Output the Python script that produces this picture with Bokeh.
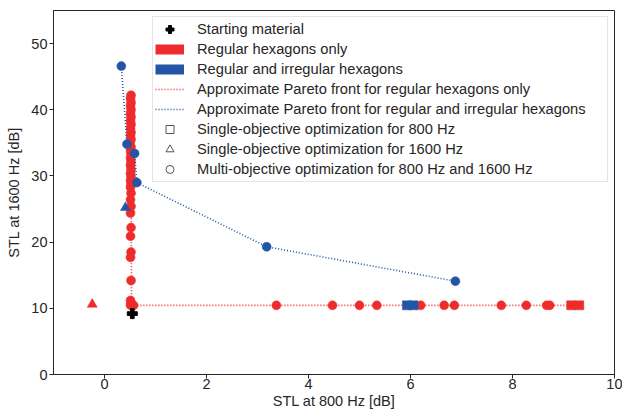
import math
from bokeh.plotting import figure
from bokeh.models import Legend, LegendItem, Range1d
from bokeh.embed import file_html
from bokeh.resources import INLINE

# ---------------- data ----------------
start_x = [0.545]
start_y = [9.2]

# Regular hexagons only, multi-objective optimisation (circles)
reg_multi_x = [0.52, 0.51, 0.52, 0.51, 0.52, 0.51, 0.52, 0.51, 0.52, 0.51,
               0.52, 0.51, 0.52, 0.50, 0.52, 0.51, 0.52, 0.51, 0.52, 0.51,
               0.52, 0.51, 0.52, 0.51, 0.52, 0.51, 0.52, 0.51, 0.52, 0.51,
               0.52, 0.51, 0.52, 0.51, 0.52, 0.51, 0.52, 0.51, 0.57,
               3.37, 4.47, 5.00, 5.34, 6.20, 6.66, 6.86, 7.78, 8.27, 8.67, 8.73]
reg_multi_y = [42.2, 41.7, 41.1, 40.6, 40.0, 39.4, 38.9, 38.3, 37.8, 37.2,
               36.6, 36.1, 35.5, 35.0, 34.4, 33.8, 33.3, 32.7, 32.1, 31.6,
               31.0, 30.4, 29.9, 29.3, 28.8, 28.3, 27.4, 26.4, 25.4, 24.4,
               22.2, 20.9, 18.5, 17.7, 14.2, 11.2, 10.6, 10.5, 10.45,
               10.45, 10.45, 10.45, 10.45, 10.45, 10.45, 10.45, 10.45, 10.45, 10.45, 10.45]

# Regular hexagons only, single-objective 800 Hz (squares) / 1600 Hz (triangle)
reg_s800_x = [9.15, 9.31]
reg_s800_y = [10.45, 10.45]
reg_s1600_x = [-0.24]
reg_s1600_y = [10.6]

# Regular and irregular hexagons
irr_multi_x = [0.33, 0.44, 0.59, 0.635, 3.18, 6.88]
irr_multi_y = [46.6, 34.8, 33.4, 29.0, 19.3, 14.1]
irr_s800_x = [5.93, 6.06]
irr_s800_y = [10.45, 10.45]
irr_s1600_x = [0.41]
irr_s1600_y = [25.2]

# Approximate Pareto fronts
reg_front_x = [0.52, 0.53, 9.31]
reg_front_y = [42.2, 10.45, 10.45]
irr_front_x = [0.33, 0.44, 0.59, 0.635, 3.18, 6.88]
irr_front_y = [46.6, 34.8, 33.4, 29.0, 19.3, 14.1]

x_ticks = [0, 2, 4, 6, 8, 10]
y_ticks = [0, 10, 20, 30, 40, 50]

legend_labels = [
    "Starting material",
    "Regular hexagons only",
    "Regular and irregular hexagons",
    "Approximate Pareto front for regular hexagons only",
    "Approximate Pareto front for regular and irregular hexagons",
    "Single-objective optimization for 800 Hz",
    "Single-objective optimization for 1600 Hz",
    "Multi-objective optimization for 800 Hz and 1600 Hz",
]

# ---------------- styling ----------------
RED = "#EE2C2C"
BLUE = "#2255A5"
DARK = "#262626"
FONT = "Liberation Sans"

p = figure(width=622, height=411,
           x_range=Range1d(-1, 10), y_range=Range1d(0, 55),
           output_backend="svg", toolbar_location=None,
           min_border_left=53, min_border_right=8,
           min_border_top=10, min_border_bottom=37)

p.xgrid.visible = False
p.ygrid.visible = False
p.outline_line_color = DARK
p.outline_line_width = 1
p.background_fill_color = "white"
p.border_fill_color = "white"

for ax in (p.xaxis[0], p.yaxis[0]):
    ax.axis_line_color = DARK
    ax.major_tick_line_color = DARK
    ax.minor_tick_line_color = None
    ax.major_tick_in = 0
    ax.major_tick_out = 4
    ax.major_label_text_font = FONT
    ax.major_label_text_font_size = "14.5px"
    ax.major_label_text_color = DARK
    ax.axis_label_text_font = FONT
    ax.axis_label_text_font_size = "14.5px"
    ax.axis_label_text_font_style = "normal"
    ax.axis_label_text_color = DARK

p.xaxis.ticker = x_ticks
p.yaxis.ticker = y_ticks
p.xaxis.axis_label = "STL at 800 Hz [dB]"
p.yaxis.axis_label = "STL at 1600 Hz [dB]"
p.xaxis.major_label_standoff = 0
p.xaxis.axis_label_standoff = 1
p.yaxis.major_label_standoff = 2
p.yaxis.axis_label_standoff = 6

# ---------------- marks ----------------
p.scatter(reg_multi_x, reg_multi_y, marker="circle", size=9,
          fill_color=RED, line_color=RED, line_width=0.5)
p.scatter(reg_s800_x, reg_s800_y, marker="square", size=9,
          fill_color=RED, line_color=RED, line_width=0.5)
p.scatter(reg_s1600_x, reg_s1600_y, marker="triangle", size=10,
          fill_color=RED, line_color=RED, line_width=0.5)
r_reg_front = p.line(reg_front_x, reg_front_y, line_color=RED,
                     line_width=1.6, line_dash="1 2")
r_irr_front = p.line(irr_front_x, irr_front_y, line_color=BLUE,
                     line_width=1.6, line_dash="1 2")
p.scatter(irr_multi_x, irr_multi_y, marker="circle", size=9,
          fill_color=BLUE, line_color=BLUE, line_width=0.5)
p.scatter(irr_s800_x, irr_s800_y, marker="square", size=9,
          fill_color=BLUE, line_color=BLUE, line_width=0.5)
p.scatter(irr_s1600_x, irr_s1600_y, marker="triangle", size=10,
          fill_color=BLUE, line_color=BLUE, line_width=0.5)
r_start = p.scatter(start_x, start_y, marker="plus", size=10,
                    fill_color="black", line_color="black")

# legend-only proxies (NaN data, nothing drawn on the plot)
nan = [math.nan]
r_red_patch = p.line(nan, nan, line_color=RED, line_width=10, line_cap="butt")
r_blue_patch = p.line(nan, nan, line_color=BLUE, line_width=10, line_cap="butt")
r_sq = p.scatter(nan, nan, marker="square", fill_color="white",
                 line_color="#555555", line_width=1)
r_tri = p.scatter(nan, nan, marker="triangle", fill_color="white",
                  line_color="#555555", line_width=1)
r_circ = p.scatter(nan, nan, marker="circle", fill_color="white",
                   line_color="#555555", line_width=1)

renders = [r_start, r_red_patch, r_blue_patch, r_reg_front, r_irr_front,
           r_sq, r_tri, r_circ]
items = [LegendItem(label=lab, renderers=[r]) for lab, r in zip(legend_labels, renders)]

legend = Legend(items=items, location="top_right", margin=6, padding=2,
                spacing=0, glyph_width=29, glyph_height=20, label_height=20,
                label_width=408, label_standoff=13, label_text_font=FONT,
                label_text_font_size="14.7px", label_text_color=DARK,
                border_line_color="#cccccc", border_line_width=1,
                background_fill_color="white", background_fill_alpha=0.8)
p.add_layout(legend)

open("out.html", "w").write(file_html(p, INLINE))
